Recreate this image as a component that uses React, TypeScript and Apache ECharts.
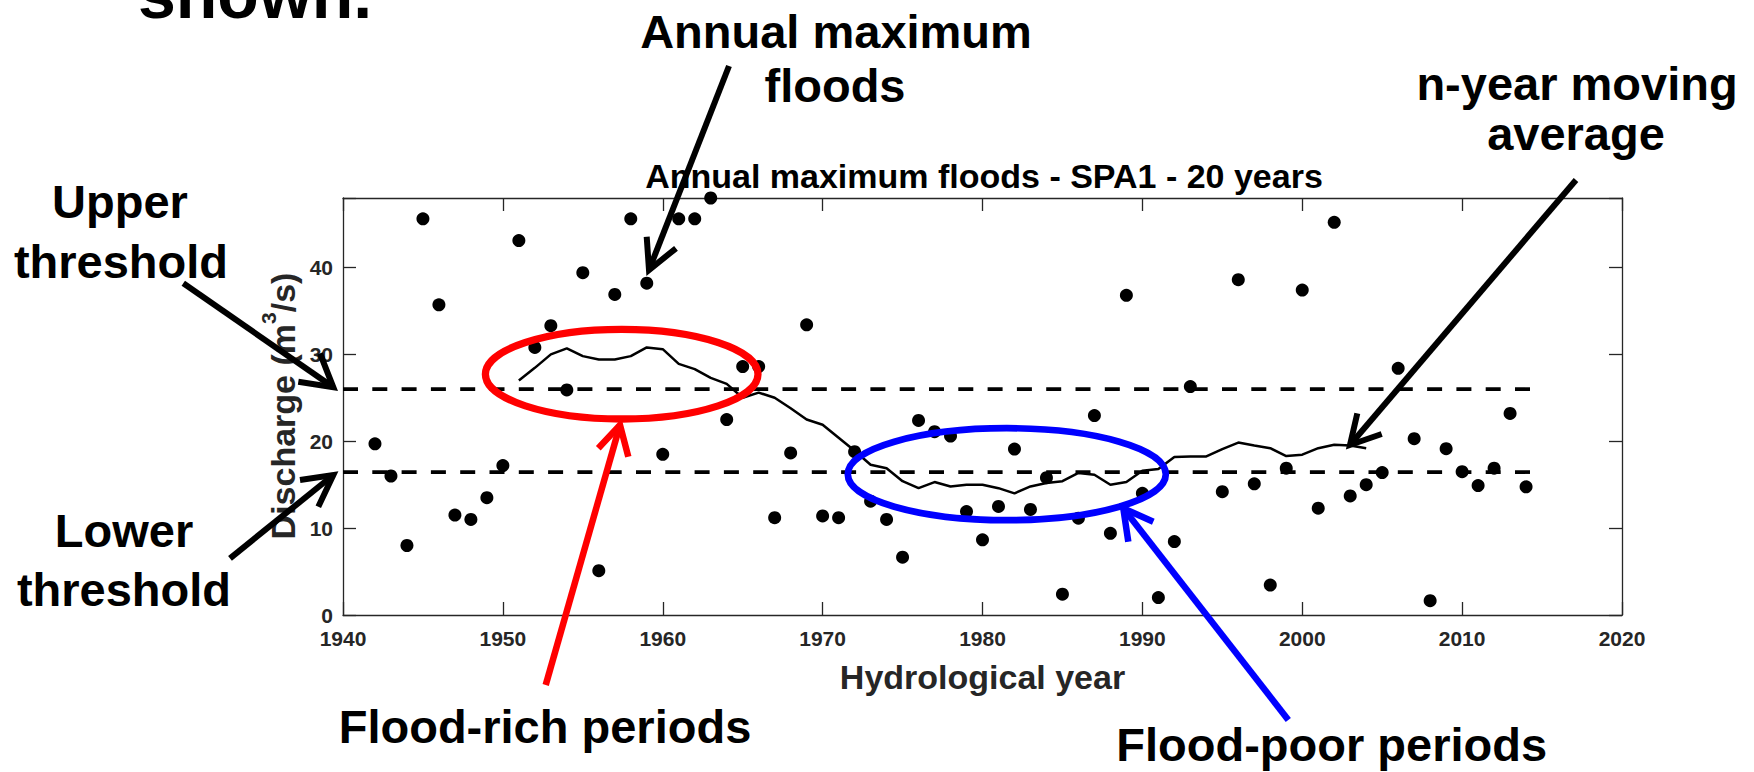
import React, { useEffect, useRef } from "react";
import * as echarts from "echarts";

// ---- Data ----
// Annual maximum floods (m3/s); 1994 has no value in the record.
const YEARS = [
  1942, 1943, 1944, 1945, 1946, 1947, 1948, 1949, 1950, 1951, 1952, 1953,
  1954, 1955, 1956, 1957, 1958, 1959, 1960, 1961, 1962, 1963, 1964, 1965,
  1966, 1967, 1968, 1969, 1970, 1971, 1972, 1973, 1974, 1975, 1976, 1977,
  1978, 1979, 1980, 1981, 1982, 1983, 1984, 1985, 1986, 1987, 1988, 1989,
  1990, 1991, 1992, 1993, 1995, 1996, 1997, 1998, 1999, 2000, 2001, 2002,
  2003, 2004, 2005, 2006, 2007, 2008, 2009, 2010, 2011, 2012, 2013, 2014,
];
const PEAK_DISCHARGE = [
  19.7, 16.0, 8.0, 45.6, 35.7, 11.5, 11.0, 13.5, 17.2, 43.1, 30.8, 33.3,
  25.9, 39.4, 5.1, 36.9, 45.6, 38.2, 18.5, 45.6, 45.6, 48.0, 22.5, 28.6,
  28.6, 11.2, 18.65, 33.4, 11.4, 11.2, 18.8, 13.1, 11.0, 6.65, 22.4, 21.1,
  20.6, 11.9, 8.65, 12.5, 19.1, 12.15, 15.8, 2.4, 11.15, 22.95, 9.4, 36.8,
  14.0, 2.0, 8.45, 26.3, 14.2, 38.6, 15.1, 3.45, 16.9, 37.4, 12.3, 45.2,
  13.7, 15.0, 16.4, 28.4, 20.3, 1.65, 19.15, 16.5, 14.9, 16.9, 23.2, 14.75,
];

// 20-year moving average as drawn
const MA_YEARS = [
  1951, 1952, 1953, 1954, 1955, 1956, 1957, 1958, 1959, 1960, 1961, 1962,
  1963, 1964, 1965, 1966, 1967, 1968, 1969, 1970, 1971, 1972, 1973, 1974,
  1975, 1976, 1977, 1978, 1979, 1980, 1981, 1982, 1983, 1984, 1985, 1986,
  1987, 1988, 1989, 1990, 1991, 1992, 1993, 1994, 1995, 1996, 1997, 1998,
  1999, 2000, 2001, 2002, 2003, 2004,
];
const MOVING_AVERAGE = [
  27.0, 28.45, 30.0, 30.7, 29.8, 29.4, 29.4, 29.8, 30.8, 30.6, 28.9, 28.3,
  27.3, 26.6, 25.0, 25.6, 25.0, 23.8, 22.5, 21.9, 20.4, 18.9, 17.3, 16.9,
  15.4, 14.6, 15.3, 14.8, 15.0, 15.0, 14.6, 14.0, 14.8, 15.2, 15.4, 16.35,
  16.15, 15.0, 15.3, 16.6, 16.8, 18.2, 18.25, 18.25, 19.1, 19.85, 19.5, 19.2,
  18.3, 18.45, 19.2, 19.6, 19.5, 19.2,
];

const UPPER_THRESHOLD = 26.0;
const LOWER_THRESHOLD = 16.45;
const THRESHOLD_SPAN = [1940, 2014.3];

const X_RANGE = [1940, 2020];
const Y_RANGE = [0, 48];
const TICK_STEP = 10;

const TITLE = "Annual maximum floods - SPA1 - 20 years";
const X_NAME = "Hydrological year";

const FONT = "'Liberation Sans', Arial, Helvetica, sans-serif";
const AXIS_GRAY = "#262626";

type Pt = [number, number];

function label(text: string, x: number, baseline: number, size = 47, color = "#000", align = "center") {
  return {
    type: "text",
    x,
    y: baseline - 0.3465 * size,
    z: 100,
    style: {
      text,
      fill: color,
      fontSize: size,
      fontWeight: "bold",
      fontFamily: FONT,
      align,
      verticalAlign: "middle",
    },
  };
}

function arrow(from: Pt, tip: Pt, a1: Pt, a2: Pt, color: string, w: number) {
  return [
    {
      type: "line",
      z: 100,
      shape: { x1: from[0], y1: from[1], x2: tip[0], y2: tip[1] },
      style: { stroke: color, lineWidth: w, lineCap: "butt" },
    },
    {
      type: "polyline",
      z: 100,
      shape: { points: [a1, tip, a2] },
      style: { stroke: color, lineWidth: w, fill: null, lineJoin: "miter", lineCap: "butt" },
    },
  ];
}

function ellipse(cx: number, cy: number, rx: number, ry: number, color: string, w: number) {
  return {
    type: "ellipse",
    z: 99,
    shape: { cx, cy, rx, ry },
    style: { fill: "none", stroke: color, lineWidth: w },
  };
}

export default function App() {
  const ref = useRef<HTMLDivElement>(null);

  useEffect(() => {
    if (!ref.current) return;
    const chart = echarts.init(ref.current, null, { renderer: "svg" });

    const axisLineStyle = { color: AXIS_GRAY, width: 1.3 };
    const tickLabel = {
      fontSize: 21,
      fontWeight: "bold",
      fontFamily: FONT,
      color: AXIS_GRAY,
    };

    const graphic: any[] = [
      // top-left fragment of a slide heading (cut off at the top, as in the reference)
      label("shown.", 138, 18, 68, "#000", "left"),
      // chart title
      label(TITLE, 984, 188, 34, "#000"),
      // axis names
      label(X_NAME, 982.5, 689, 34, AXIS_GRAY),
      {
        type: "text",
        x: 283.2,
        y: 406,
        rotation: Math.PI / 2,
        z: 100,
        style: {
          text: "{a|Discharge (m}{s|3}{a|/s)}",
          align: "center",
          verticalAlign: "middle",
          rich: {
            a: {
              fontSize: 34,
              fontWeight: "bold",
              fontFamily: FONT,
              fill: AXIS_GRAY,
              color: AXIS_GRAY,
              lineHeight: 50,
            },
            s: {
              fontSize: 21,
              fontWeight: "bold",
              fontFamily: FONT,
              fill: AXIS_GRAY,
              color: AXIS_GRAY,
              lineHeight: 21,
              verticalAlign: "top",
            },
          },
        },
      },
      // annotation labels
      label("Annual maximum", 836, 47.7),
      label("floods", 835, 101.7),
      label("n-year moving", 1577, 100),
      label("average", 1576, 150),
      label("Upper", 120, 218),
      label("threshold", 121, 277.7),
      label("Lower", 124, 546.7),
      label("threshold", 124, 606),
      label("Flood-rich periods", 545, 742.7),
      label("Flood-poor periods", 1331.7, 761),
      // ellipses
      ellipse(621.7, 374.2, 136.3, 44.8, "#ff0000", 7.3),
      ellipse(1006.8, 474.2, 159, 46, "#0000ff", 6.7),
      // arrows
      ...arrow([729, 66], [649, 270], [646.7, 236.7], [676, 248.3], "#000", 6),
      ...arrow([183.3, 283.3], [333.3, 387.3], [298.3, 381.7], [320, 353.3], "#000", 6),
      ...arrow([230, 558.3], [333.3, 475], [300, 480], [318.3, 506.7], "#000", 6),
      ...arrow([1576, 180], [1350, 445], [1357.3, 413.3], [1381.7, 434], "#000", 6),
      ...arrow([545.7, 685], [620, 425], [598.3, 448.3], [628.3, 456.7], "#ff0000", 6.5),
      ...arrow([1288.3, 720], [1123.3, 508.3], [1128.3, 541.7], [1153.3, 521.7], "#0000ff", 6.5),
    ];

    const xBase = {
      type: "value",
      min: X_RANGE[0],
      max: X_RANGE[1],
      interval: TICK_STEP,
      splitLine: { show: false },
      axisLine: { show: true, onZero: false, lineStyle: axisLineStyle },
      axisTick: { show: true, inside: true, length: 13, lineStyle: axisLineStyle },
    };
    const yBase = {
      type: "value",
      min: Y_RANGE[0],
      max: Y_RANGE[1],
      interval: TICK_STEP,
      splitLine: { show: false },
      axisLine: { show: true, onZero: false, lineStyle: axisLineStyle },
      axisTick: { show: true, inside: true, length: 13, lineStyle: axisLineStyle },
    };

    chart.setOption({
      animation: false,
      backgroundColor: "#ffffff",
      grid: { left: 343, top: 198, width: 1279, height: 417, containLabel: false },
      xAxis: [
        {
          ...xBase,
          position: "bottom",
          axisLabel: { ...tickLabel, margin: 13, formatter: (v: number) => String(v) },
        },
        { ...xBase, position: "top", axisLabel: { show: false } },
      ],
      yAxis: [
        {
          ...yBase,
          position: "left",
          axisLabel: {
            ...tickLabel,
            margin: 10,
            formatter: (v: number) => (v % TICK_STEP === 0 ? String(v) : ""),
          },
        },
        { ...yBase, position: "right", axisLabel: { show: false } },
      ],
      series: [
        {
          type: "line",
          xAxisIndex: 0,
          yAxisIndex: 0,
          data: THRESHOLD_SPAN.map((x) => [x, UPPER_THRESHOLD]),
          symbol: "none",
          lineStyle: { color: "#000", width: 3.7, type: [15, 14.3], cap: "butt", opacity: 1 },
          z: 2,
        },
        {
          type: "line",
          xAxisIndex: 0,
          yAxisIndex: 0,
          data: THRESHOLD_SPAN.map((x) => [x, LOWER_THRESHOLD]),
          symbol: "none",
          lineStyle: { color: "#000", width: 3.7, type: [15, 14.3], cap: "butt", opacity: 1 },
          z: 2,
        },
        {
          type: "line",
          xAxisIndex: 0,
          yAxisIndex: 0,
          data: MA_YEARS.map((y, i) => [y, MOVING_AVERAGE[i]]),
          symbol: "none",
          lineStyle: { color: "#000", width: 2.5, opacity: 1 },
          z: 3,
        },
        {
          type: "scatter",
          xAxisIndex: 0,
          yAxisIndex: 0,
          clip: false,
          data: YEARS.map((y, i) => [y, PEAK_DISCHARGE[i]]),
          symbol: "circle",
          symbolSize: 13,
          itemStyle: { color: "#000", opacity: 1 },
          z: 4,
        },
      ],
      graphic,
    });

    return () => chart.dispose();
  }, []);

  return (
    <div
      ref={ref}
      style={{ position: "absolute", left: 0, top: 0, width: 1754, height: 772, background: "#fff" }}
    />
  );
}
